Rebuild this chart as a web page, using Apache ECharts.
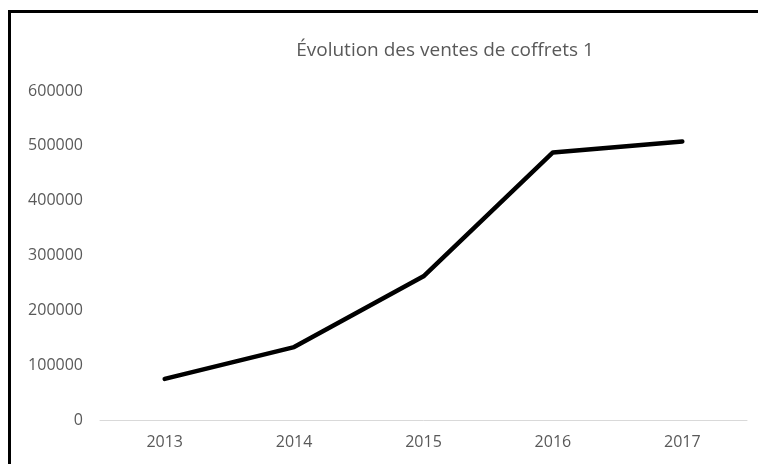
<!DOCTYPE html>
<html>
<head>
<meta charset="utf-8">
<script src="https://cdn.jsdelivr.net/npm/echarts@6/dist/echarts.min.js"></script>
<style>
html,body{margin:0;padding:0;background:#fff;overflow:hidden;}
#frame{position:absolute;left:8px;top:10px;width:800px;height:500px;border-left:3px solid #000;border-top:3px solid #000;box-sizing:border-box;}
#chart{position:absolute;left:0;top:0;width:758px;height:464px;}
</style>
</head>
<body>
<div id="frame"></div>
<div id="chart"></div>
<script>
const titleText = "Évolution des ventes de coffrets 1";
const categories = ["2013", "2014", "2015", "2016", "2017"];
const ventes = [75000, 133000, 262000, 488000, 508000];
const yMin = 0, yMax = 600000, yStep = 100000;

const chart = echarts.init(document.getElementById('chart'), null, {renderer: 'canvas'});
chart.setOption({
  animation: false,
  backgroundColor: 'transparent',
  title: {
    text: titleText,
    left: 440, top: 36, textAlign: 'center',
    textStyle: {fontFamily: 'Open Sans', fontSize: 19, fontWeight: 'normal', color: '#595959'}
  },
  grid: {left: 100, right: 11, top: 91, bottom: 44, containLabel: false},
  xAxis: {
    type: 'category', data: categories, boundaryGap: true,
    axisLine: {lineStyle: {color: '#d9d9d9', width: 1}},
    axisTick: {show: false},
    axisLabel: {color: '#595959', fontFamily: 'Open Sans', fontSize: 16, margin: 14}
  },
  yAxis: {
    type: 'value', min: yMin, max: yMax, interval: yStep,
    axisLine: {show: false}, axisTick: {show: false},
    splitLine: {show: false},
    axisLabel: {color: '#595959', fontFamily: 'Open Sans', fontSize: 16, margin: 17,
      formatter: function (v) { return String(v); }}
  },
  series: [{
    type: 'line', data: ventes, symbol: 'none',
    lineStyle: {color: '#000', width: 4.5, cap: 'round', join: 'round'}
  }]
});
</script>
</body>
</html>
